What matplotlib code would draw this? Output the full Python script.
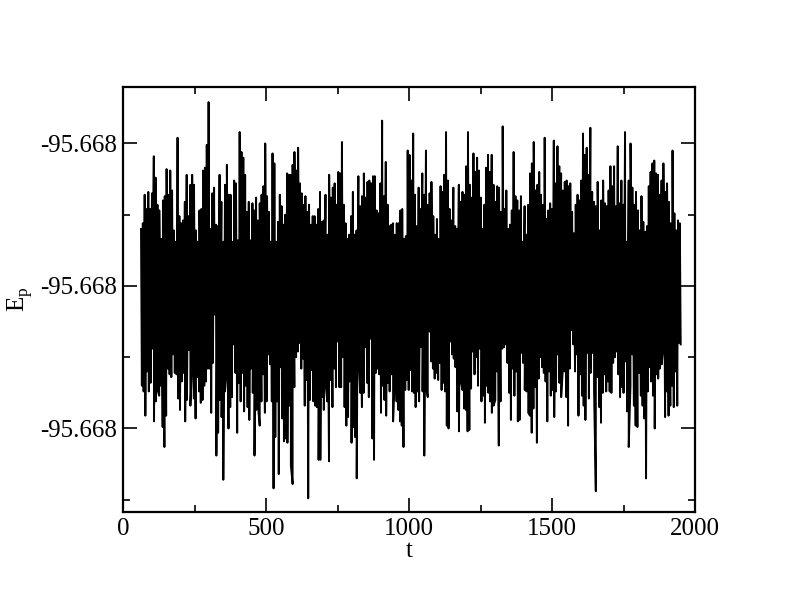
import numpy as np
import matplotlib
matplotlib.use("Agg")
import matplotlib.pyplot as plt
from matplotlib.ticker import MultipleLocator, FormatStrFormatter

# Potential energy E_p = E0 + SCALE * deviation (deviation)
E0 = -95.668
SCALE = 1e-4
t_start, t_end = 63.0, 1947.0

# upper excursions (local maxima), in units of SCALE relative to E0
dev_hi = [
    0.40, 0.44, 0.64, 0.54, 0.66, 0.54, 0.65, 0.91, 0.76, 0.57, 0.53, 0.33, 0.60, 0.63, 0.82, 0.64,
    0.81, 0.67, 0.39, 0.31, 1.04, 0.49, 0.44, 0.46, 0.59, 0.78, 0.49, 0.71, 0.78, 0.71, 0.39, 0.31,
    0.53, 0.54, 0.81, 0.83, 0.99, 1.29, 0.40, 0.65, 0.69, 0.43, 0.42, 0.78, 0.59, 0.31, 0.71, 0.85,
    0.64, 0.64, 0.31, 0.74, 0.72, 0.32, 1.08, 0.94, 0.90, 0.78, 0.52, 0.59, 0.32, 0.58, 0.53, 0.62,
    0.46, 0.58, 0.64, 0.70, 1.00, 0.63, 0.52, 0.31, 0.93, 0.86, 0.31, 0.45, 0.64, 0.56, 0.43, 0.50,
    0.79, 0.78, 0.78, 0.85, 0.94, 0.81, 0.97, 0.72, 0.65, 0.57, 0.63, 0.52, 0.57, 0.43, 0.49,
    0.49, 0.43, 0.54, 0.66, 0.45, 0.46, 0.64, 0.36, 0.78, 0.62, 0.69, 0.72, 0.57, 0.80, 0.79, 1.01,
    0.57, 0.44, 0.33, 0.36, 0.49, 0.66, 0.36, 0.39, 0.77, 0.56, 0.63, 0.79, 0.62, 0.73, 0.74, 0.72,
    0.77, 0.77, 0.53, 0.51, 0.72, 1.16, 0.63, 0.87, 0.57, 0.42, 0.43, 0.44, 0.36, 0.44, 0.44, 0.53,
    0.54, 0.33, 0.35, 0.95, 0.92, 0.74, 1.07, 0.64, 0.42, 0.69, 0.54, 0.79, 0.64, 0.95, 0.57, 0.65,
    0.73, 0.49, 0.36, 0.47, 0.33, 0.70, 0.66, 0.78, 1.08, 0.74, 0.54, 0.46, 0.69, 0.42, 0.40, 0.71,
    0.59, 0.66, 0.64, 0.84, 1.08, 0.71, 0.62, 0.93, 0.80, 0.90, 0.81, 0.62, 0.40, 0.57, 0.83, 0.92,
    0.80, 0.92, 0.71, 0.59,
    0.70, 0.69, 0.52, 1.12, 0.54, 0.67, 0.40, 0.43, 0.53, 0.94, 0.63, 0.60, 0.53, 0.63, 0.31, 0.56,
    0.36, 0.57, 0.79, 0.86, 1.01, 0.67, 0.71, 0.80, 0.64, 0.57, 1.04, 0.47, 0.53, 0.58, 0.54, 1.02,
    0.72, 0.98, 0.84, 0.79, 0.67, 0.73, 0.74, 0.70, 0.72, 0.52, 0.37, 0.57, 0.64, 0.60, 0.74, 1.07,
    0.92, 0.97, 0.78, 1.11, 0.66, 0.59, 0.56, 0.73, 0.39, 0.60, 0.74, 0.58, 0.56, 0.67, 0.84, 0.70,
    0.84, 0.56, 0.98, 0.58, 0.74, 0.57, 1.08, 0.31, 0.74, 1.00, 0.69, 0.57, 0.66, 0.53, 0.39, 0.63,
    0.45, 0.38, 0.42, 0.70, 0.80, 0.86, 0.88, 0.79, 0.78, 0.64, 0.74, 0.86, 0.66, 0.72, 0.59, 0.44,
    0.95, 0.51, 0.39, 0.46, 0.44,
]

# lower excursions (local minima), in units of SCALE relative to E0
dev_lo = [
    -0.70, -0.74, -0.91, -0.60, -0.74, -0.68, -0.44, -0.95, -0.81, -0.73, -0.77, -0.70, -0.99, -1.13,
    -0.91, -0.58, -0.62, -0.64, -0.48, -0.61, -0.62, -0.79, -0.87, -0.67, -0.61, -0.95, -0.80, -0.45,
    -0.84, -0.55, -0.79, -0.93, -0.64, -0.74, -0.82, -0.80, -0.70, -0.67, -0.58, -0.58, -0.89, -0.54,
    -0.20, -1.19, -1.03, -0.80, -0.92, -1.36, -0.74, -0.59, -1.00, -0.85, -0.78, -0.41, -0.61, -1.03,
    -0.68, -0.81, -0.61, -0.88, -0.70, -0.85, -0.94, -0.58, -0.75, -1.19, -0.87, -0.84, -0.98, -0.81,
    -0.62, -0.89, -0.81, -0.48, -0.55, -0.81, -1.42, -1.06, -0.81, -1.32, -0.57, -0.93, -1.09, -1.07,
    -1.10, -0.84, -1.26, -1.39, -0.71, -0.50, -0.46, -0.40, -0.58, -0.51, -0.84, -0.66, -1.49, -0.80,
    -0.59, -0.81, -0.84, -0.85, -1.22,
    -1.22, -0.78, -0.87, -0.68, -0.81, -1.23, -0.66, -0.85, -0.58, -0.71, -0.39, -0.71, -0.71, -0.50,
    -0.85, -0.98, -0.92, -0.67, -1.10, -0.99, -1.06, -1.35, -0.47, -0.75, -0.85, -0.75, -0.43, -0.68,
    -0.78, -0.37, -1.07, -1.22, -0.61, -0.58, -0.62, -0.89, -0.70, -0.80, -0.91, -0.68, -0.74, -0.62,
    -0.95, -0.62, -0.81, -0.87, -0.95, -0.98, -1.13, -0.73, -0.66, -0.73, -0.59, -0.74, -0.75, -0.85,
    -0.74, -0.81, -0.43, -0.74, -1.19, -0.71, -0.78, -0.32, -0.53, -0.58, -0.65, -0.61, -0.66, -0.54,
    -0.73, -0.68, -0.74, -0.98, -1.00, -0.39, -0.48, -0.51, -0.57, -0.88, -1.02, -0.66, -0.73, -0.86,
    -0.87, -1.02, -1.01, -0.72, -0.46, -0.62, -0.50, -0.70, -0.44, -0.81, -0.77, -0.96, -0.70, -0.75,
    -0.81, -0.89, -0.84, -0.80, -0.60, -1.12, -0.81, -0.44, -0.43,
    -0.41, -0.54, -0.75, -0.94, -0.58, -0.77, -0.60, -0.95, -0.94, -0.47, -0.54, -0.73, -0.74, -0.89,
    -0.91, -1.03, -0.86, -0.71, -1.10, -0.65, -0.50, -0.57, -0.61, -0.67, -0.95, -0.60, -0.77, -0.73,
    -0.92, -0.74, -0.48, -0.68, -0.78, -0.58, -0.60, -0.78, -0.98, -0.58, -0.31, -0.41, -0.60, -0.48,
    -0.91, -0.62, -0.77, -0.84, -0.94, -0.47, -0.79, -0.61, -0.47, -0.74, -1.44, -0.64, -0.85, -0.96,
    -0.75, -0.62, -0.74, -0.67, -0.74, -0.75, -0.54, -0.50, -0.46, -0.62, -0.78, -0.71, -0.75, -0.53,
    -0.88, -1.13, -0.70, -0.48, -0.84, -0.98, -0.99, -0.61, -0.77, -0.84, -0.93, -1.35, -0.74, -0.57,
    -0.67, -0.77, -1.00, -0.62, -0.65, -0.58, -0.55, -0.43, -0.92, -0.74, -0.91, -0.84, -0.70, -0.85,
    -0.60, -0.84, -0.40, -0.41,
]

x_ticks = [0, 500, 1000, 1500, 2000]
y_tick_dev = [-1, 0, 1]
x_label = "t"
y_label = r"E$_\mathregular{p}$"

# build the series: maxima and minima alternate in time
hi = np.array(dev_hi)
lo = np.array(dev_lo)
t_hi = np.linspace(t_start, t_end, len(hi))
t_lo = np.linspace(t_start, t_end, len(lo)) + 0.5 * (t_end - t_start) / len(lo)
t_all = np.concatenate([t_hi, t_lo])
d_all = np.concatenate([hi, lo])
order = np.argsort(t_all, kind="stable")
t = t_all[order]
E = E0 + SCALE * d_all[order]

plt.rcParams["font.family"] = ["Liberation Serif", "DejaVu Serif"]
plt.rcParams["mathtext.fontset"] = "custom"
plt.rcParams["mathtext.rm"] = "Liberation Serif"

fig = plt.figure(figsize=(7.92, 6.04), dpi=100)
ax = fig.add_axes([123 / 792, 1 - 512 / 604, (695 - 123) / 792, (512 - 87) / 604])

ax.plot(t, E, color="black", lw=1.4)

ax.set_xlim(0, 2000)
ax.set_ylim(E0 + SCALE * (-1.586), E0 + SCALE * 1.396)
ax.set_xticks(x_ticks)
ax.xaxis.set_minor_locator(MultipleLocator(250))
ax.set_yticks([E0 + SCALE * v for v in y_tick_dev])
ax.yaxis.set_minor_locator(MultipleLocator(SCALE / 2))
ax.yaxis.set_major_formatter(FormatStrFormatter("%.3f"))

ax.tick_params(which="both", direction="in", top=True, right=True, width=1.2, labelsize=18)
ax.tick_params(which="major", length=10, pad=4)
ax.tick_params(which="minor", length=5)
for s in ax.spines.values():
    s.set_linewidth(1.6)

ax.set_xlabel(x_label, fontsize=18, labelpad=0)
ax.set_ylabel(y_label, fontsize=18, labelpad=4)

fig.savefig("out.png", dpi=100)
